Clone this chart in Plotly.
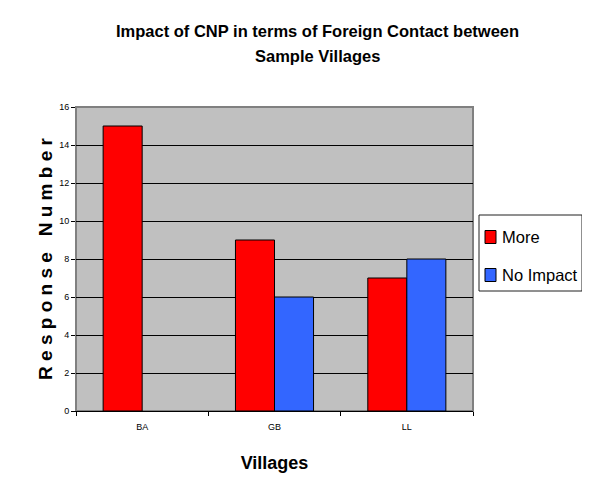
import plotly.graph_objects as go

villages = ["BA", "GB", "LL"]
more = [15, 9, 7]
no_impact = [None, 6, 8]
series_names = ["More", "No Impact"]
series_colors = ["#FF0000", "#3366FF"]
y_ticks = [0, 2, 4, 6, 8, 10, 12, 14, 16]
title_lines = ["Impact of CNP in terms of Foreign Contact between", "Sample Villages"]

FONT = "Liberation Sans, Arial, sans-serif"

# the page body adds an 8px margin; screen coords -> paper coords
PX0, PX1, PY0, PY1 = 76, 473, 107, 411
def px(sx):
    return (sx - PX0) / (PX1 - PX0)
def py(sy):
    return (PY1 - sy) / (PY1 - PY0)

fig = go.Figure()
fig.add_trace(go.Bar(x=villages, y=more, name=series_names[0], showlegend=False,
                     marker=dict(color=series_colors[0], line=dict(color="black", width=1))))
fig.add_trace(go.Bar(x=villages, y=no_impact, name=series_names[1], showlegend=False,
                     marker=dict(color=series_colors[1], line=dict(color="black", width=1))))

W, H = 582, 472
fig.update_layout(
    width=W, height=H,
    margin=dict(l=PX0 - 8, r=W - (PX1 - 8), t=PY0 - 8, b=H - (PY1 - 8), autoexpand=False),
    paper_bgcolor="white", plot_bgcolor="#C0C0C0",
    font=dict(family=FONT, color="black"),
    barmode="group", bargap=0.41, bargroupgap=0,
    showlegend=False,
)

# title as two lines
for line, sy in zip(title_lines, [31, 56]):
    fig.add_annotation(text="<b>" + line + "</b>", xref="paper", yref="paper",
                       x=px(317), y=py(sy), xanchor="center", yanchor="middle",
                       showarrow=False, font=dict(size=16.5, family=FONT))

# legend (box, swatches, labels)
fig.add_shape(type="rect", xref="paper", yref="paper",
              x0=px(479), x1=px(582), y0=py(291), y1=py(215),
              line=dict(color="#202020", width=1), fillcolor="white", layer="above")
for name, color, sy in zip(series_names, series_colors, [237, 275]):
    fig.add_shape(type="rect", xref="paper", yref="paper",
                  x0=px(485), x1=px(496), y0=py(sy + 6.5), y1=py(sy - 6.5),
                  line=dict(color="black", width=1), fillcolor=color, layer="above")
    fig.add_annotation(text=name, xref="paper", yref="paper",
                       x=px(500), y=py(sy), xanchor="left", yanchor="middle",
                       showarrow=False, font=dict(size=16.5, family=FONT))

fig.update_xaxes(
    type="category", showgrid=False, tickson="boundaries",
    ticks="outside", ticklen=4, tickcolor="black",
    showline=True, linecolor="black", linewidth=1,
    tickfont=dict(size=9, family=FONT), automargin=False, ticklabelstandoff=7,
    title=dict(text="<b>Villages</b>", font=dict(size=18, family=FONT), standoff=25),
)
fig.update_yaxes(
    range=[0, 16], tickvals=y_ticks, ticks="outside", ticklen=4, tickcolor="black",
    showgrid=True, gridcolor="black", gridwidth=1, zeroline=False,
    showline=True, linecolor="#808080", linewidth=1,
    tickfont=dict(size=9, family=FONT), automargin=False,
    title=dict(text="<b>R e s p o n s e   N u m b e r</b>",
               font=dict(size=19, family=FONT), standoff=1),
)

fig.add_shape(type="rect", xref="paper", yref="paper", x0=0, x1=1, y0=0, y1=1,
              line=dict(color="#808080", width=2), layer="below")

fig.write_html("out.html")
